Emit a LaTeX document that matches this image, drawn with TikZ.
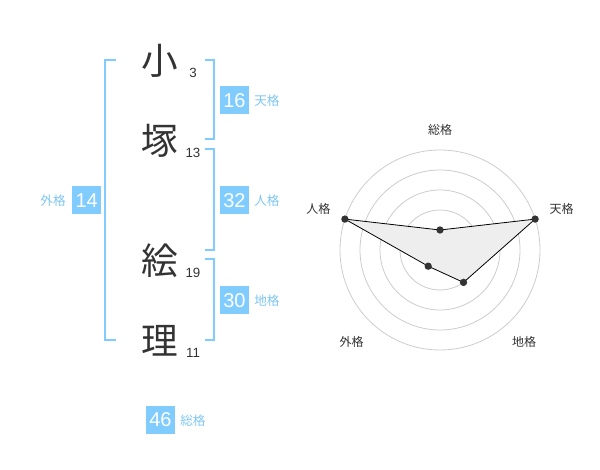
\documentclass[tikz,border=0pt]{standalone}
\usepackage{fontspec}
\newfontfamily\cjk{Noto Sans CJK JP}
\setmainfont{Liberation Sans}
\definecolor{lblue}{HTML}{80CCFF}
\definecolor{ltext}{HTML}{7FC6F2}
\definecolor{dk}{HTML}{333333}
\definecolor{ring}{HTML}{CCCCCC}
\definecolor{polyfill}{HTML}{EEEEEE}
\tikzset{
  kanji/.style={font=\cjk\fontsize{27.5}{27.5}\selectfont, text=dk, inner sep=0pt},
  stroke/.style={font=\fontsize{10}{10}\selectfont, text=dk, inner sep=0pt},
  numbox/.style={fill=lblue, text=white, minimum width=21.75pt, minimum height=21pt, inner sep=0pt, font=\fontsize{15}{15}\selectfont},
  boxlabel/.style={text=ltext, font=\cjk\fontsize{9.5}{9.5}\selectfont, inner sep=0pt},
  bracket/.style={draw=lblue, line width=1.5pt},
  radlabel/.style={text=dk, font=\cjk\fontsize{9}{9}\selectfont, inner sep=0pt},
  ringline/.style={draw=ring, line width=0.6pt},
  dot/.style={circle, fill=dk, minimum size=5.5pt, inner sep=0pt},
}
\begin{document}
\begin{tikzpicture}[x=0.75pt,y=-0.75pt]
\useasboundingbox (0,0) rectangle (600,470);
% kanji
\node[kanji] (k1) at (160,61) {小};
\node[kanji] (k2) at (160,140.5) {塚};
\node[kanji] (k3) at (160,260.5) {絵};
\node[kanji] (k4) at (160,340.5) {理};
\node[stroke] (s1) at (193,73) {3};
\node[stroke] (s2) at (193,153) {13};
\node[stroke] (s3) at (193,273) {19};
\node[stroke] (s4) at (193,353) {11};
% brackets
\draw[bracket] (115.7,60) -- (105,60) -- (105,340) -- (115.7,340);
\draw[bracket] (205,60) -- (214.3,60) -- (214.3,139.3) -- (205,139.3);
\draw[bracket] (205,149.3) -- (214.3,149.3) -- (214.3,250) -- (205,250);
\draw[bracket] (205,259.3) -- (214.3,259.3) -- (214.3,340) -- (205,340);
% boxes
\node[numbox] (ten) at (234.5,100.5) {16};
\node[boxlabel, anchor=west] (tenl) at (254,101) {天格};
\node[numbox] (jin) at (234.5,200.5) {32};
\node[boxlabel, anchor=west] (jinl) at (254,201) {人格};
\node[numbox] (chi) at (234.5,300.5) {30};
\node[boxlabel, anchor=west] (chil) at (254,301) {地格};
\node[numbox] (gai) at (86.7,200.5) {14};
\node[boxlabel, anchor=east] (gail) at (66,201) {外格};
\node[numbox] (sou) at (160.5,419.5) {46};
\node[boxlabel, anchor=west] (soul) at (180,420.5) {総格};
% radar
\foreach \r in {20,40,60,80,100} \draw[ringline] (440,250) circle (\r);
\fill[ring] (440,250) circle (3.2);
\coordinate (p1) at (440,230);
\coordinate (p2) at (535.1,219.1);
\coordinate (p3) at (463.5,282.4);
\coordinate (p4) at (428.2,266.2);
\coordinate (p5) at (344.9,219.1);
\filldraw[fill=polyfill, draw=black, line width=0.6pt] (p1) -- (p2) -- (p3) -- (p4) -- (p5) -- cycle;
\node[dot] (d1) at (p1) {};
\node[dot] (d2) at (p2) {};
\node[dot] (d3) at (p3) {};
\node[dot] (d4) at (p4) {};
\node[dot] (d5) at (p5) {};
\node[radlabel] (l1) at (440,130) {総格};
\node[radlabel] (l2) at (561.7,208.5) {天格};
\node[radlabel] (l3) at (318.3,208.5) {人格};
\node[radlabel] (l4) at (351.7,341.7) {外格};
\node[radlabel] (l5) at (524,341.7) {地格};
\end{tikzpicture}
\end{document}
